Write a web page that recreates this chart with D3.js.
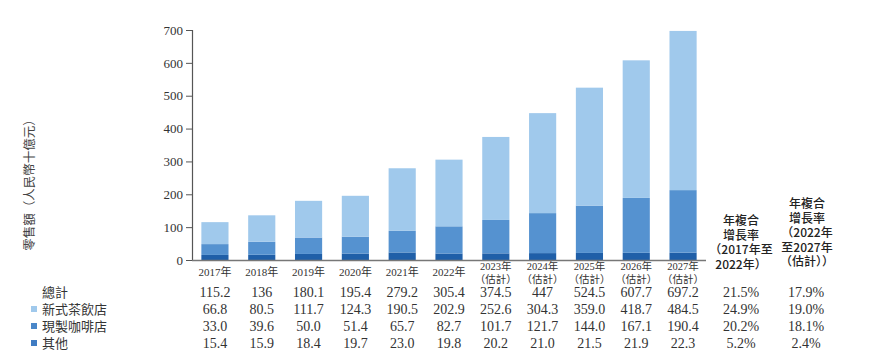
<!DOCTYPE html>
<html>
<head>
<meta charset="utf-8">
<script src="https://cdn.jsdelivr.net/npm/d3@7"></script>
<style>
  body { margin: 0; background: #fff; }
  svg { display: block; }
</style>
</head>
<body>
<div id="chart"></div>
<script>
let w = 870,
    h = 362;

// data
let years = ["2017", "2018", "2019", "2020", "2021", "2022", "2023", "2024", "2025", "2026", "2027"];
let forecast = [false, false, false, false, false, false, true, true, true, true, true];
let totals = ["115.2", "136", "180.1", "195.4", "279.2", "305.4", "374.5", "447", "524.5", "607.7", "697.2"];
let tea = [66.8, 80.5, 111.7, 124.3, 190.5, 202.9, 252.6, 304.3, 359.0, 418.7, 484.5];
let coffee = [33.0, 39.6, 50.0, 51.4, 65.7, 82.7, 101.7, 121.7, 144.0, 167.1, 190.4];
let other = [15.4, 15.9, 18.4, 19.7, 23.0, 19.8, 20.2, 21.0, 21.5, 21.9, 22.3];
let cagr1 = ["21.5%", "24.9%", "20.2%", "5.2%"];
let cagr2 = ["17.9%", "19.0%", "18.1%", "2.4%"];
let rowNames = ["總計", "新式茶飲店", "現製咖啡店", "其他"];
let yTicks = [0, 100, 200, 300, 400, 500, 600, 700];

let colors = {
  tea: "#a0c9ec",
  coffee: "#5592d0",
  other: "#1f5fa8"
};
let legendColors = [null, colors.tea, "#4a87c9", "#3f7cc3"];

let serif = "'Liberation Serif', 'Noto Sans CJK TC', serif";
let cjk = "'Noto Sans CJK TC', sans-serif";
let textColor = "#333";

let svg = d3.select("#chart")
            .append("svg")
            .attr("width", w)
            .attr("height", h);

let x = d3.scaleBand()
          .domain(years)
          .range([192, 706])
          .paddingInner(0.42)
          .paddingOuter(0.2);

let y = d3.scaleLinear()
          .domain([0, 700])
          .range([260, 30]);

// stack the three series, bottom to top: other, coffee, tea
let rows = years.map((yr, i) => ({ year: yr, other: other[i], coffee: coffee[i], tea: tea[i] }));
let stack = d3.stack().keys(["other", "coffee", "tea"]);
let series = stack(rows);

svg.selectAll(".layer")
   .data(series)
   .enter()
   .append("g")
   .attr("class", "layer")
   .attr("fill", d => colors[d.key])
   .selectAll("rect")
   .data(d => d)
   .enter()
   .append("rect")
   .attr("x", d => x(d.data.year))
   .attr("y", d => y(d[1]))
   .attr("width", x.bandwidth())
   .attr("height", d => y(d[0]) - y(d[1]));

// y axis
let yAxis = svg.append("g")
   .attr("transform", "translate(192,0)")
   .call(d3.axisLeft(y).tickValues(yTicks).tickSize(6).tickPadding(3));
yAxis.attr("font-family", serif);
yAxis.select(".domain").attr("stroke", "#555").attr("stroke-width", 1.2);
yAxis.selectAll(".tick line").attr("stroke", "#555");
yAxis.selectAll(".tick text")
     .style("font-family", serif)
     .style("font-size", "13px")
     .attr("fill", textColor);

// x axis line
svg.append("line")
   .attr("x1", 192).attr("x2", 706)
   .attr("y1", 260.5).attr("y2", 260.5)
   .attr("stroke", "#777")
   .attr("stroke-width", 1.5);

// x labels
years.forEach((yr, i) => {
  let cx = x(yr) + x.bandwidth() / 2;
  if (forecast[i]) {
    svg.append("text")
       .attr("x", cx).attr("y", 270)
       .attr("text-anchor", "middle")
       .style("font-family", serif).style("font-size", "10.5px")
       .attr("fill", textColor)
       .text(yr + "年");
    svg.append("text")
       .attr("x", cx).attr("y", 283)
       .attr("text-anchor", "middle")
       .style("font-family", serif).style("font-size", "10.5px")
       .attr("fill", textColor)
       .text("（估計）");
  } else {
    svg.append("text")
       .attr("x", cx).attr("y", 276)
       .attr("text-anchor", "middle")
       .style("font-family", serif).style("font-size", "11px")
       .attr("fill", textColor)
       .text(yr + "年");
  }
});

// y axis title
svg.append("text")
   .attr("transform", "translate(30,182) rotate(-90)")
   .attr("dy", "0.35em")
   .attr("text-anchor", "middle")
   .style("font-family", cjk)
   .style("font-size", "12.5px")
   .attr("fill", "#444")
   .text("零售額（人民幣十億元）");

// table rows
let tableData = [totals, tea.map(v => v.toFixed(1)), coffee.map(v => v.toFixed(1)), other.map(v => v.toFixed(1))];
let rowY = [297, 314, 331, 348];

rowNames.forEach((name, r) => {
  if (legendColors[r]) {
    svg.append("rect")
       .attr("x", 31).attr("y", rowY[r] - 8)
       .attr("width", 6).attr("height", 6)
       .attr("fill", legendColors[r]);
  }
  svg.append("text")
     .attr("x", 42).attr("y", rowY[r])
     .style("font-family", cjk).style("font-size", "13px")
     .attr("fill", textColor)
     .text(name);

  tableData[r].forEach((v, i) => {
    svg.append("text")
       .attr("x", x(years[i]) + x.bandwidth() / 2)
       .attr("y", rowY[r])
       .attr("text-anchor", "middle")
       .style("font-family", serif).style("font-size", "14px")
       .attr("fill", textColor)
       .text(v);
  });

  svg.append("text")
     .attr("x", 741).attr("y", rowY[r])
     .attr("text-anchor", "middle")
     .style("font-family", serif).style("font-size", "14px")
     .attr("fill", textColor)
     .text(cagr1[r]);
  svg.append("text")
     .attr("x", 806).attr("y", rowY[r])
     .attr("text-anchor", "middle")
     .style("font-family", serif).style("font-size", "14px")
     .attr("fill", textColor)
     .text(cagr2[r]);
});

// CAGR headers, one text block each with a tspan per line
let head1 = ["年複合", "增長率", "（2017年至", "2022年）"];
let head2 = ["年複合", "增長率", "（2022年", "至2027年", "（估計））"];

function header(lines, cx, top) {
  let t = svg.append("text")
     .attr("x", cx).attr("y", top)
     .attr("text-anchor", "middle")
     .style("font-family", cjk).style("font-size", "12px")
     .style("font-weight", "500")
     .attr("fill", "#222");
  t.selectAll("tspan")
   .data(lines)
   .enter()
   .append("tspan")
   .attr("x", cx)
   .attr("dy", (d, i) => i === 0 ? 0 : 14.5)
   .text(d => d);
}
header(head1, 741, 225);
header(head2, 807, 208);
</script>
</body>
</html>
